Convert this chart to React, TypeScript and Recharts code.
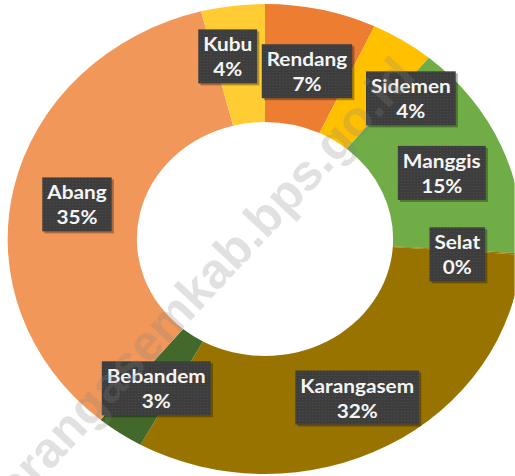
import { PieChart, Pie } from 'recharts'

const districts = ['Rendang', 'Sidemen', 'Manggis', 'Selat', 'Karangasem', 'Bebandem', 'Abang', 'Kubu']
const shares = [7, 4, 15, 0.1, 32, 3, 35, 4]
const sliceColors = ['#ED7D31', '#FFC000', '#70AD47', '#997300', '#997300', '#43682B', '#F1975A', '#FFCD33']

// Excel moved a couple of labels to avoid overlaps
const labelNudge: Record<string, [number, number]> = {
  Kubu: [-12, -12],
  Sidemen: [39, 4],
}

const STRETCH = 1.095
const FONT = 'bold 19px Lato'

const chartData = districts.map((name, i) => ({ name, value: shares[i], fill: sliceColors[i] }))

let ctx: CanvasRenderingContext2D | null = null
function textWidth(s: string) {
  if (!ctx) ctx = document.createElement('canvas').getContext('2d')
  if (!ctx) return s.length * 10
  ctx.font = FONT
  return ctx.measureText(s).width
}

const RAD = Math.PI / 180

function renderLabel(props: any) {
  const { cx, cy, midAngle, innerRadius, outerRadius, name, value, index } = props
  const r = (innerRadius + outerRadius) / 2
  const nudge = labelNudge[name] || [0, 0]
  const x = cx + r * Math.cos(midAngle * RAD) + nudge[0]
  const y = cy - r * Math.sin(midAngle * RAD) + 4 + nudge[1]
  const pct = `${Math.round(value)}%`
  const w = Math.max(textWidth(name), textWidth(pct)) + 9
  const h = 54
  return (
    <g key={`lbl-${index}`}>
      {index === 0 && (
        <defs>
          <pattern id="dots" width="3" height="3" patternUnits="userSpaceOnUse">
            <rect width="3" height="3" fill="#3d3d3d" />
            <rect width="1" height="1" fill="#4c4c4c" />
          </pattern>
        </defs>
      )}
      <rect x={x - w / 2 + 2} y={y - h / 2 + 2} width={w} height={h} fill="rgba(0,0,0,0.3)" />
      <rect x={x - w / 2} y={y - h / 2} width={w} height={h} fill="url(#dots)" />
      <text x={x} y={y - h / 2 + 22} textAnchor="middle" fill="#f4f4f4" style={{ font: FONT }}>
        {name}
      </text>
      <text x={x} y={y - h / 2 + 47} textAnchor="middle" fill="#f4f4f4" style={{ font: FONT }}>
        {pct}
      </text>
    </g>
  )
}

export default function App() {
  return (
    <div style={{ position: 'absolute', left: 0, top: 0, width: 515, height: 476, overflow: 'hidden', background: '#fff' }}>
      <style>{`.recharts-pie-sectors { filter: drop-shadow(1px 3px 3px rgba(0,0,0,0.28)); }`}</style>
      <div style={{ width: 515 / STRETCH, height: 476, transform: `scaleX(${STRETCH})`, transformOrigin: '0 0' }}>
        <PieChart width={515 / STRETCH} height={476} margin={{ top: 0, right: 0, bottom: 0, left: 0 }}>
          <Pie
            data={chartData}
            dataKey="value"
            nameKey="name"
            cx={242}
            cy={239}
            innerRadius={117}
            outerRadius={235}
            startAngle={90}
            endAngle={-270}
            stroke="none"
            labelLine={false}
            label={renderLabel}
            isAnimationActive={false}
          />
        </PieChart>
      </div>
      <svg width={515} height={476} style={{ position: 'absolute', left: 0, top: 0, pointerEvents: 'none' }}>
        <text
          x={208}
          y={302}
          textAnchor="middle"
          transform="rotate(-47 208 302)"
          fill="#808080"
          fillOpacity={0.24}
          style={{ font: 'bold 50px "Liberation Sans", Arial, sans-serif' }}
        >
          karangasemkab.bps.go.id
        </text>
      </svg>
    </div>
  )
}
